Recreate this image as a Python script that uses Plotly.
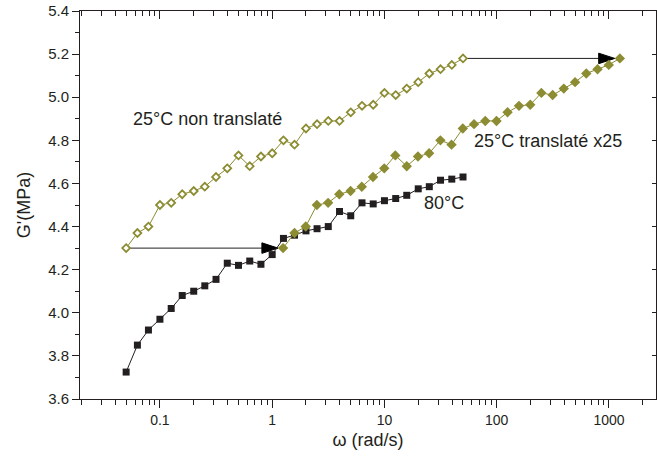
import plotly.graph_objects as go

# ---- data ----
omega = [0.05, 0.063, 0.079, 0.1, 0.126, 0.158, 0.2, 0.251, 0.316, 0.398, 0.501,
         0.631, 0.794, 1.0, 1.26, 1.58, 2.0, 2.51, 3.16, 3.98, 5.01, 6.31, 7.94,
         10.0, 12.6, 15.8, 20.0, 25.1, 31.6, 39.8, 50.1]
omega_x25 = [1.25, 1.58, 1.99, 2.5, 3.15, 3.96, 4.99, 6.28, 7.91, 9.96, 12.5,
             15.8, 19.9, 25.0, 31.5, 39.6, 49.9, 62.8, 79.1, 99.6, 125, 158, 199,
             250, 315, 396, 499, 628, 791, 996, 1250]
g_25_raw = [4.30, 4.37, 4.40, 4.50, 4.51, 4.55, 4.565, 4.585, 4.63, 4.67, 4.73,
            4.68, 4.725, 4.74, 4.80, 4.78, 4.855, 4.875, 4.89, 4.89, 4.93, 4.96,
            4.965, 5.02, 5.01, 5.04, 5.07, 5.11, 5.13, 5.15, 5.18]
g_25_shift = [4.30, 4.37, 4.40, 4.50, 4.51, 4.55, 4.565, 4.585, 4.63, 4.67, 4.73,
              4.68, 4.725, 4.74, 4.80, 4.78, 4.855, 4.875, 4.89, 4.89, 4.93, 4.96,
              4.965, 5.02, 5.01, 5.04, 5.07, 5.11, 5.13, 5.15, 5.18]
g_80 = [3.725, 3.85, 3.92, 3.97, 4.02, 4.08, 4.10, 4.125, 4.155, 4.23, 4.22,
        4.24, 4.225, 4.27, 4.345, 4.36, 4.38, 4.39, 4.40, 4.47, 4.45, 4.51,
        4.505, 4.52, 4.53, 4.545, 4.575, 4.585, 4.615, 4.62, 4.63]

x_tickvals = [0.1, 1, 10, 100, 1000]
x_ticktext = ["0.1", "1", "10", "100", "1000"]
y_tickvals = [3.6, 3.8, 4.0, 4.2, 4.4, 4.6, 4.8, 5.0, 5.2, 5.4]

label_25_raw = "25°C non translaté"
label_25_shift = "25°C translaté x25"
label_80 = "80°C"

OLIVE = "#8c8c33"
DARK = "#231f20"
FONT = "Liberation Sans"

x_range = [-1.712, 3.419]
y_range = [3.6, 5.4]
x_minor = [k * 10.0 ** d for d in range(-2, 4) for k in range(2, 10)]
x_minor = [v for v in x_minor if 10 ** x_range[0] <= v <= 10 ** x_range[1]]

fig = go.Figure()

# arrows (line + arrow-head marker) from the raw series to the shifted series
for i in (0, -1):
    fig.add_trace(go.Scatter(
        x=[omega[i], omega_x25[i]], y=[g_25_raw[i], g_25_shift[i]],
        mode="lines+markers",
        line=dict(color=DARK, width=1),
        marker=dict(symbol="arrow", size=[0, 17], angleref="previous",
                    standoff=[0, 5], color="#000000", opacity=1,
                    line=dict(color="#000000", width=1)),
        hoverinfo="skip", showlegend=False))

fig.add_trace(go.Scatter(
    x=omega, y=g_80, mode="lines+markers", name=label_80,
    line=dict(color=DARK, width=1),
    marker=dict(symbol="square", size=7, color=DARK, line=dict(width=0)),
    showlegend=False))

fig.add_trace(go.Scatter(
    x=omega, y=g_25_raw, mode="lines+markers", name=label_25_raw,
    line=dict(color=OLIVE, width=1),
    marker=dict(symbol="diamond", size=6, color="white",
                line=dict(color=OLIVE, width=1.8)),
    showlegend=False))

fig.add_trace(go.Scatter(
    x=omega_x25, y=g_25_shift, mode="lines+markers", name=label_25_shift,
    line=dict(color=OLIVE, width=1),
    marker=dict(symbol="diamond", size=8, color=OLIVE, line=dict(width=0)),
    showlegend=False))

# invisible trace to anchor the mirrored (top / right) axes
fig.add_trace(go.Scatter(
    x=[omega[0]], y=[g_80[0]], xaxis="x2", yaxis="y2", mode="markers",
    marker=dict(opacity=0), hoverinfo="skip", showlegend=False))

# text labels
fig.add_annotation(x=-0.573, y=4.90, xref="x", yref="y", text=label_25_raw,
                   showarrow=False, font=dict(family=FONT, size=18, color=DARK))
fig.add_annotation(x=2.457, y=4.795, xref="x", yref="y", text=label_25_shift,
                   showarrow=False, font=dict(family=FONT, size=18, color=DARK))
fig.add_annotation(x=1.528, y=4.507, xref="x", yref="y", text=label_80,
                   showarrow=False, font=dict(family=FONT, size=18, color=DARK))

axis_common = dict(showline=True, linecolor=DARK, linewidth=1, showgrid=False,
                   zeroline=False, tickcolor=DARK, tickwidth=1, automargin=False)

fig.update_layout(
    width=657, height=461,
    margin=dict(l=80, r=1, t=11, b=62, autoexpand=False),
    paper_bgcolor="white", plot_bgcolor="white",
    font=dict(family=FONT, color=DARK),
    xaxis=dict(type="log", range=x_range, ticks="outside", ticklen=8,
               tickmode="array", tickvals=x_tickvals, ticktext=x_ticktext,
               tickfont=dict(size=14, color=DARK),
               minor=dict(tickmode="array", tickvals=x_minor, ticks="outside",
                          ticklen=5, tickcolor=DARK, tickwidth=1),
               title=dict(text="ω (rad/s)", font=dict(size=18, color=DARK),
                          standoff=6),
               **axis_common),
    xaxis2=dict(type="log", range=x_range, overlaying="x", side="top",
                anchor="y", ticks="inside", ticklen=8, tickmode="array",
                tickvals=x_tickvals, showticklabels=False,
                minor=dict(tickmode="array", tickvals=x_minor, ticks="inside",
                           ticklen=5, tickcolor=DARK, tickwidth=1),
                **axis_common),
    yaxis=dict(range=y_range, ticks="outside", ticklen=7, tickmode="array",
               tickvals=y_tickvals, tickformat=".1f",
               tickfont=dict(size=15, color=DARK),
               minor=dict(dtick=0.1, tick0=3.6, ticks="outside", ticklen=4,
                          tickcolor=DARK, tickwidth=1),
               title=dict(text="G'(MPa)", font=dict(size=18, color=DARK),
                          standoff=12),
               **axis_common),
    yaxis2=dict(range=y_range, overlaying="y", side="right", anchor="x",
                ticks="inside", ticklen=4, tickmode="array",
                tickvals=y_tickvals, showticklabels=False, **axis_common),
)

# remove the default 8 px page margin so the figure fills the window
fig.write_html("out.html", config={"displayModeBar": False},
               post_script="document.body.style.margin='0px';")
